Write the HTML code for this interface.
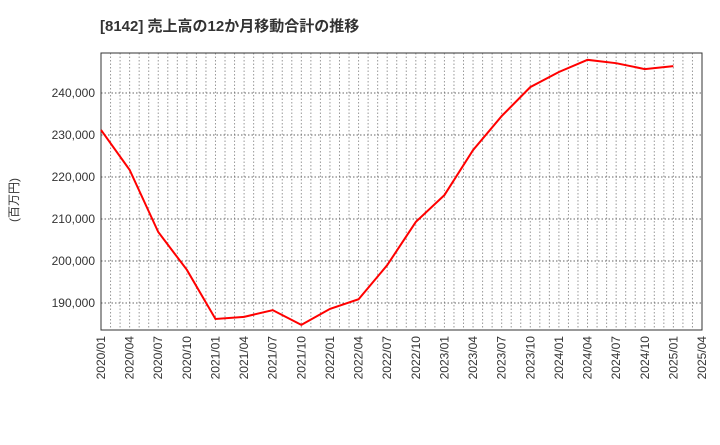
<!DOCTYPE html>
<html><head><meta charset="utf-8"><style>
body{margin:0;background:#fff;}
svg{font-family:"Liberation Sans","Noto Sans CJK JP",sans-serif;}
</style></head><body>
<svg id="c" width="720" height="440">
<text x="100" y="31" font-size="15" font-weight="bold" fill="#333">[8142]  売上高の12か月移動合計の推移</text>
<text x="18" y="200" font-size="12" fill="#333" transform="rotate(-90 18 200)" text-anchor="middle">(百万円)</text>
<g id="grid"></g><g id="axes"></g><g id="series"></g>
</svg>
<script>
const categories=["2020/01","2020/04","2020/07","2020/10","2021/01","2021/04","2021/07","2021/10","2022/01","2022/04","2022/07","2022/10","2023/01","2023/04","2023/07","2023/10","2024/01","2024/04","2024/07","2024/10","2025/01"];
const values=[231200,221700,206900,197900,186200,186700,188300,184800,188600,190900,199000,209300,215700,226400,234500,241400,245000,247900,247100,245700,246400];
const xTickLabels=["2020/01","2020/04","2020/07","2020/10","2021/01","2021/04","2021/07","2021/10","2022/01","2022/04","2022/07","2022/10","2023/01","2023/04","2023/07","2023/10","2024/01","2024/04","2024/07","2024/10","2025/01","2025/04"];
const yTicks=[190000,200000,210000,220000,230000,240000];
const L=101,R=702,T=53,B=330;
const nQ=xTickLabels.length-1;
const xs=i=>L+(R-L)*i/nQ;
const ys=v=>303-(v-190000)*0.0042;
const NS="http://www.w3.org/2000/svg";
function mk(p,t,a){const e=document.createElementNS(NS,t);for(const k in a)e.setAttribute(k,a[k]);p.appendChild(e);return e;}
const g=document.getElementById('grid'),ax=document.getElementById('axes'),s=document.getElementById('series');
for(let m=1;m<nQ*3;m++){const x=L+(R-L)*m/(nQ*3);
const l=mk(g,'line',{x1:x,x2:x,y1:T,y2:B,stroke:'#999','stroke-dasharray':'1.5,2','stroke-width':1});

}
yTicks.forEach(v=>{const y=ys(v);
const l=mk(g,'line',{x1:L,x2:R,y1:y,y2:y,stroke:'#666','stroke-dasharray':'1.5,2','stroke-width':1});


const t=mk(ax,'text',{x:L-6,y:y+4,'font-size':12,'text-anchor':'end',fill:'#333'});
t.textContent=v.toLocaleString('en-US');

});
xTickLabels.forEach((lb,i)=>{const x=xs(i);
const t=mk(ax,'text',{x:x+4,y:B+6,'font-size':12,'text-anchor':'end',fill:'#333',transform:`rotate(-90 ${x+4} ${B+6})`});
t.textContent=lb;

});
const fr=mk(ax,'rect',{x:L,y:T,width:R-L,height:B-T,fill:'none',stroke:'#333','stroke-width':1});


const pts=values.map((v,i)=>xs(categories.indexOf(categories[i]))+','+ys(v)).join(' ');
const pl=mk(s,'polyline',{points:pts,fill:'none',stroke:'#f00','stroke-width':2});


</script>
</body></html>
